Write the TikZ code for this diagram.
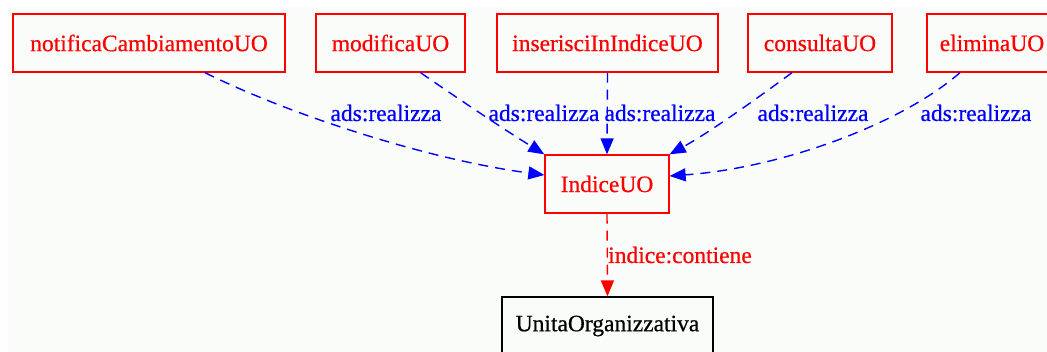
\documentclass[tikz,border=0pt]{standalone}
\usepackage{fontspec}
\setmainfont{Liberation Serif}[FakeBold=0.6]
\usetikzlibrary{arrows.meta}
\definecolor{bgc}{RGB}{250,252,250}
\definecolor{gvred}{RGB}{255,0,0}
\definecolor{gvblue}{RGB}{0,0,255}
\tikzset{
  box/.style={draw, line width=1.3pt, rectangle, minimum height=58pt, inner sep=0pt,
              font=\fontsize{23.5}{26}\selectfont},
  redbox/.style={box, draw=gvred, text=gvred},
  blackbox/.style={box, draw=black, text=black},
  rel/.style={gvblue, line width=1.4pt, dash pattern=on 10pt off 7pt,
              -{Triangle[length=16pt,width=13pt]}},
  cont/.style={gvred, line width=1.4pt, dash pattern=on 10pt off 7pt,
              -{Triangle[length=16pt,width=13pt]}},
  lbl/.style={font=\fontsize{23.5}{26}\selectfont, anchor=base, inner sep=0pt}
}
\begin{document}
\begin{tikzpicture}[x=1pt,y=-1pt]
\useasboundingbox (0,0) rectangle (1047,352);
\clip (0,0) rectangle (1047,352);
\fill[bgc] (7,7) rectangle (1047,352);

\node[redbox, minimum width=272pt] (notifica) at (149,43) {notificaCambiamentoUO};
\node[redbox, minimum width=149pt] (modifica) at (390.5,43) {modificaUO};
\node[redbox, minimum width=221pt] (inserisci) at (607.5,43) {inserisciInIndiceUO};
\node[redbox, minimum width=144pt] (consulta) at (820,43) {consultaUO};
\node[redbox, minimum width=130pt] (elimina) at (992,43) {eliminaUO};
\node[redbox, minimum width=124pt] (indice) at (607,184) {IndiceUO};
\node[blackbox, minimum width=211pt] (unita) at (607.5,326) {UnitaOrganizzativa};

\draw[rel] ([xshift=56pt]notifica.south) .. controls (290,115) and (430,160) .. ([yshift=9pt]indice.west);
\draw[rel] ([xshift=30pt]modifica.south) .. controls (460,100) and (505,130) .. (indice.north west);
\draw[rel] (inserisci.south) -- (indice.north);
\draw[rel] ([xshift=-28pt]consulta.south) .. controls (755,100) and (710,132) .. (indice.north east);
\draw[rel] ([xshift=-32pt]elimina.south) .. controls (900,125) and (780,168) .. ([yshift=8pt]indice.east);
\draw[cont] (indice.south) -- (unita.north);

\node[lbl, text=gvblue] (l1) at (386,121) {ads:realizza};
\node[lbl, text=gvblue] (l2) at (544,121) {ads:realizza};
\node[lbl, text=gvblue] (l3) at (660,121) {ads:realizza};
\node[lbl, text=gvblue] (l4) at (813,121) {ads:realizza};
\node[lbl, text=gvblue] (l5) at (976,121) {ads:realizza};
\node[lbl, text=gvred] (l6) at (680,263) {indice:contiene};
\end{tikzpicture}
\end{document}
